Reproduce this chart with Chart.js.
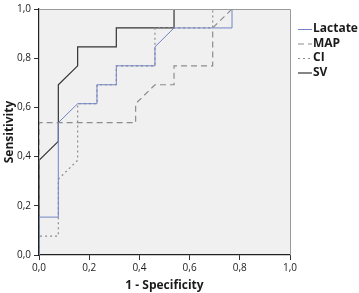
<!DOCTYPE html>
<html>
<head>
<meta charset="utf-8">
<script src="https://cdn.jsdelivr.net/npm/chart.js@4.4.0/dist/chart.umd.min.js"></script>
<style>
  html, body { margin: 0; padding: 0; background: #fff; }
  #wrap { width: 359px; height: 293px; position: relative; }
</style>
</head>
<body>
<div id="wrap"><canvas id="roc"></canvas></div>
<script>
// ROC curves (x = 1 - specificity, y = sensitivity)
const seriesNames = ['Lactate', 'MAP', 'CI', 'SV'];

const lactateX = [0, 0, 0.077, 0.077, 0.154, 0.231, 0.231, 0.308, 0.308, 0.462, 0.462, 0.538, 0.769, 0.769, 1];
const lactateY = [0, 0.154, 0.154, 0.538, 0.615, 0.615, 0.692, 0.692, 0.769, 0.769, 0.846, 0.923, 0.923, 1, 1];

const mapX = [0, 0, 0.385, 0.385, 0.462, 0.538, 0.538, 0.692, 0.692, 0.769, 1];
const mapY = [0, 0.538, 0.538, 0.615, 0.692, 0.692, 0.769, 0.769, 0.923, 1, 1];

const ciX = [0, 0, 0.077, 0.077, 0.154, 0.154, 0.231, 0.231, 0.308, 0.308, 0.462, 0.462, 0.692, 0.692, 1];
const ciY = [0, 0.077, 0.077, 0.308, 0.385, 0.615, 0.615, 0.692, 0.692, 0.769, 0.769, 0.923, 0.923, 1, 1];

const svX = [0, 0, 0.077, 0.077, 0.154, 0.154, 0.308, 0.308, 0.538, 0.538, 1];
const svY = [0, 0.385, 0.462, 0.692, 0.769, 0.846, 0.846, 0.923, 0.923, 1, 1];

const tickValues = [0, 0.2, 0.4, 0.6, 0.8, 1.0];

function pts(xs, ys) {
    return xs.map((x, i) => ({ x: x, y: ys[i] }));
}

const styles = [
    { color: '#7383c4', width: 1, dash: [] },
    { color: '#8c8c8c', width: 1.2, dash: [6, 4] },
    { color: '#8c8c8c', width: 1.2, dash: [2, 3] },
    { color: '#333333', width: 1.2, dash: [] },
];

const allData = [pts(lactateX, lactateY), pts(mapX, mapY), pts(ciX, ciY), pts(svX, svY)];

// fondo gris del área y marco superior/derecho
const plotBg = {
    id: 'plotBg',
    beforeDraw(chart) {
        const { ctx, chartArea: a } = chart;
        ctx.save();
        ctx.fillStyle = '#f0f0f0';
        ctx.fillRect(a.left, a.top, a.right - a.left, a.bottom - a.top);
        ctx.restore();
    },
    afterDraw(chart) {
        const { ctx, chartArea: a } = chart;
        ctx.save();
        ctx.strokeStyle = '#9a9a9a';
        ctx.lineWidth = 1;
        ctx.beginPath();
        ctx.moveTo(a.left, a.top + 0.5);
        ctx.lineTo(a.right + 0.5, a.top + 0.5);
        ctx.lineTo(a.right + 0.5, a.bottom);
        ctx.stroke();

        // leyenda a la derecha
        ctx.font = 'bold 12px "Open Sans", sans-serif';
        ctx.textBaseline = 'middle';
        ctx.fillStyle = '#1a1a1a';
        const x0 = 298, y0 = 29, step = 14.5;
        seriesNames.forEach((name, i) => {
            const y = y0 + i * step;
            const s = styles[i];
            ctx.strokeStyle = s.color;
            ctx.lineWidth = s.width;
            ctx.setLineDash(s.dash);
            ctx.beginPath();
            ctx.moveTo(x0, y + 0.5);
            ctx.lineTo(x0 + 14, y + 0.5);
            ctx.stroke();
            ctx.setLineDash([]);
            ctx.fillText(name, x0 + 15, y);
        });
        ctx.restore();
    }
};

const ctx = document.getElementById('roc').getContext('2d');

const rocChart = new Chart(ctx, {
    type: 'scatter',
    data: {
        datasets: seriesNames.map((name, i) => ({
            label: name,
            data: allData[i],
            showLine: true,
            borderColor: styles[i].color,
            borderWidth: styles[i].width,
            borderDash: styles[i].dash,
            pointRadius: 0,
            fill: false,
            tension: 0,
        })),
    },
    options: {
        responsive: true,
        maintainAspectRatio: false,
        animation: false,
        layout: { padding: { top: 5, right: 69, left: 0, bottom: 0 } },
        plugins: {
            legend: { display: false },
            tooltip: { enabled: false },
        },
        scales: {
            x: {
                type: 'linear',
                min: 0,
                max: 1,
                afterBuildTicks: (scale) => { scale.ticks = tickValues.map(v => ({ value: v })); },
                afterFit: (scale) => { scale.height = 38; },
                grid: { drawOnChartArea: false, drawTicks: true, tickLength: 5, color: '#333' },
                border: { color: '#222', width: 1.2 },
                ticks: {
                    color: '#222',
                    padding: 2,
                    font: { family: '"Open Sans", sans-serif', size: 10 },
                    callback: (v) => v.toFixed(1).replace('.', ','),
                },
                title: {
                    display: true,
                    text: '1 - Specificity',
                    color: '#1a1a1a',
                    padding: { top: 1, bottom: 0 },
                    font: { family: '"Open Sans", sans-serif', size: 12, weight: 'bold' },
                },
            },
            y: {
                type: 'linear',
                min: 0,
                max: 1,
                afterBuildTicks: (scale) => { scale.ticks = tickValues.map(v => ({ value: v })); },
                afterFit: (scale) => { scale.width = 39; },
                grid: { drawOnChartArea: false, drawTicks: true, tickLength: 5, color: '#333' },
                border: { color: '#222', width: 1.2 },
                ticks: {
                    color: '#222',
                    padding: 3,
                    font: { family: '"Open Sans", sans-serif', size: 10 },
                    callback: (v) => v.toFixed(1).replace('.', ','),
                },
                title: {
                    display: true,
                    text: 'Sensitivity',
                    color: '#1a1a1a',
                    padding: { top: 2, bottom: 0 },
                    font: { family: '"Open Sans", sans-serif', size: 12, weight: 'bold' },
                },
            },
        },
    },
    plugins: [plotBg],
});
</script>
</body>
</html>
